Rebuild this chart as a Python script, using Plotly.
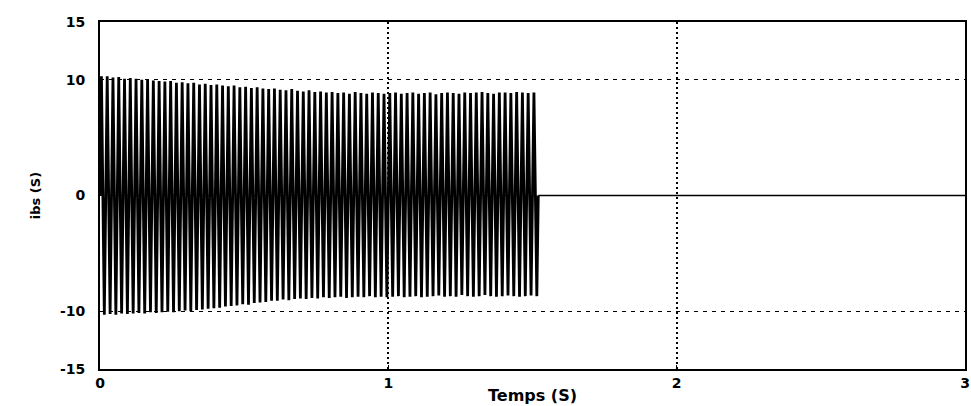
import plotly.graph_objects as go

# Peak values of the current ibs (one per half-cycle, 50 Hz)
upper_peaks = [10.3, 10.3, 10.2, 10.25, 10.1, 10.15, 10.1, 10.0, 10.05, 9.95,
               9.9, 9.85, 9.9, 9.75, 9.8, 9.7, 9.75, 9.6, 9.65, 9.55,
               9.6, 9.5, 9.45, 9.5, 9.35, 9.4, 9.3, 9.35, 9.25, 9.2,
               9.25, 9.15, 9.1, 9.2, 9.05, 9.0, 9.1, 8.95, 9.0, 8.9,
               8.95, 8.85, 8.9, 8.8, 8.95, 8.85, 8.8, 8.9, 8.85, 8.8,
               8.85, 8.9, 8.8, 8.85, 8.9, 8.8, 8.85, 8.9, 8.75, 8.85,
               8.9, 8.85, 8.8, 8.9, 8.85, 8.9, 8.95, 8.85, 8.8, 8.9,
               8.9, 8.85, 8.95, 8.9, 8.85, 8.9]
lower_peaks = [-10.3, -10.25, -10.3, -10.2, -10.25, -10.2, -10.15, -10.2, -10.1, -10.15,
               -10.1, -10.05, -10.1, -10.0, -9.95, -10.0, -9.9, -9.85, -9.8, -9.75,
               -9.7, -9.6, -9.55, -9.5, -9.4, -9.45, -9.3, -9.25, -9.2, -9.1,
               -9.1, -9.0, -9.05, -8.95, -8.9, -8.95, -8.85, -8.9, -8.8, -8.85,
               -8.8, -8.75, -8.85, -8.8, -8.75, -8.8, -8.7, -8.8, -8.75, -8.8,
               -8.75, -8.7, -8.8, -8.75, -8.7, -8.8, -8.75, -8.7, -8.65, -8.75,
               -8.7, -8.75, -8.6, -8.7, -8.75, -8.7, -8.6, -8.7, -8.75, -8.7,
               -8.65, -8.7, -8.75, -8.7, -8.65, -8.7]
period = 0.02          # s (50 Hz)
t_cut = 1.52           # s, current drops to zero
t_end = 3.0

x_ticks = [0, 1, 2, 3]
y_ticks = [-15, -10, 0, 10, 15]

xs, ys = [0.0], [0.0]
for k, (u, l) in enumerate(zip(upper_peaks, lower_peaks)):
    xs += [k * period + period / 4, k * period + 3 * period / 4]
    ys += [u, l]
xs += [t_cut]
ys += [0.0]

fig = go.Figure()
fig.add_trace(go.Scatter(x=xs, y=ys, mode="lines",
                         line=dict(color="black", width=2.8),
                         hoverinfo="skip", showlegend=False))
fig.add_trace(go.Scatter(x=[t_cut, t_end], y=[0.0, 0.0], mode="lines",
                         line=dict(color="black", width=1.6),
                         hoverinfo="skip", showlegend=False))

font = dict(family="DejaVu Sans, Arial, sans-serif", size=14, color="black", weight="bold")
title_font = dict(family="DejaVu Sans, Arial, sans-serif", size=16, color="black", weight="bold")

fig.update_layout(
    width=971, height=406,
    margin=dict(l=100, r=6, t=22, b=37),
    paper_bgcolor="white", plot_bgcolor="white",
    font=font,
    xaxis=dict(range=[0, 3], tickvals=x_ticks, ticktext=[str(v) for v in x_ticks],
               showgrid=True, gridcolor="black", griddash="2px,3px", gridwidth=1.5,
               zeroline=False, showline=True, linecolor="black", linewidth=1.8,
               mirror=True, ticks="inside", ticklen=4, tickcolor="black",
               tickfont=font,
               title=dict(text="Temps (S)", font=title_font, standoff=0),
               automargin=False),
    yaxis=dict(range=[-15, 15], tickvals=y_ticks, ticktext=[str(v) for v in y_ticks],
               showgrid=True, gridcolor="black", griddash="4px,5px", gridwidth=1.2,
               zeroline=False, showline=True, linecolor="black", linewidth=1.8,
               mirror=True, ticks="inside", ticklen=4, tickcolor="black",
               tickfont=font, ticklabelstandoff=10,
               title=dict(text="ibs (S)", font=dict(family="DejaVu Sans, Arial, sans-serif",
                                                   size=13, color="black"), standoff=16),
               automargin=False),
)

fig.write_html("out.html")
